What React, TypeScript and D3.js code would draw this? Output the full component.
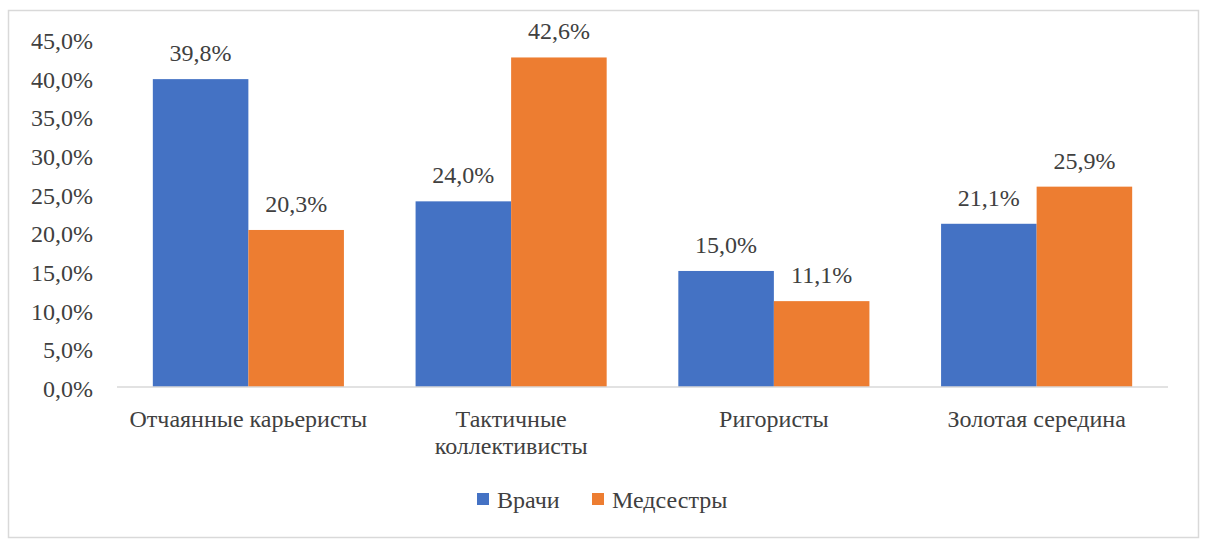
import React from "react";
import * as d3 from "d3";

const categories: string[][] = [
  ["Отчаянные карьеристы"],
  ["Тактичные", "коллективисты"],
  ["Ригористы"],
  ["Золотая середина"],
];
const seriesNames = ["Врачи", "Медсестры"];
const doctors = [39.8, 24.0, 15.0, 21.1];
const nurses = [20.3, 42.6, 11.1, 25.9];
const yTicks = [0, 5, 10, 15, 20, 25, 30, 35, 40, 45];

const colors = ["#4472C4", "#ED7D31"];
const textColor = "#404040";
const lineColor = "#D9D9D9";
const font =
  "'Times New Roman', Times, Tinos, 'Liberation Serif', 'Noto Serif', 'DejaVu Serif', FreeSerif, 'Nimbus Roman', serif";

const width = 1210;
const height = 547;
const plotLeft = 117;
const plotRight = 1168;
const plotBottom = 387;

const fmt = (v: number) => v.toFixed(1).replace(".", ",") + "%";

export default function App() {
  const keys = categories.map((c) => c.join(" "));
  const x = d3.scaleBand().domain(keys).range([plotLeft, plotRight]);
  const inner = d3
    .scaleBand()
    .domain(seriesNames)
    .range([0, x.bandwidth()])
    .paddingInner(0)
    .paddingOuter(0.375);
  const y = d3.scaleLinear().domain([0, 45]).range([plotBottom, 38.9]);
  const values = [doctors, nurses];
  const ts = { fontFamily: font, fontSize: "24px", fill: textColor };

  return (
    <svg
      width={width}
      height={height}
      style={{ position: "absolute", left: 0, top: 0, fontFamily: font }}
    >
      <rect x={0} y={0} width={width} height={height} fill="#fff" />
      <rect
        x={8.5}
        y={10.5}
        width={1190}
        height={527}
        fill="#fff"
        stroke={lineColor}
        strokeWidth={1.5}
      />

      {/* y axis labels */}
      {yTicks.map((t) => (
        <text key={t} x={93} y={y(t) + 10} textAnchor="end" style={ts}>
          {fmt(t)}
        </text>
      ))}

      {/* bars */}
      {seriesNames.map((s, si) =>
        keys.map((k, ci) => {
          const v = values[si][ci];
          const bx = (x(k) ?? 0) + (inner(s) ?? 0);
          return (
            <g key={s + k}>
              <rect
                x={bx}
                y={y(v)}
                width={inner.bandwidth()}
                height={y(0) - y(v)}
                fill={colors[si]}
              />
              <text
                x={bx + inner.bandwidth() / 2}
                y={y(v) - 18}
                textAnchor="middle"
                style={ts}
              >
                {fmt(v)}
              </text>
            </g>
          );
        })
      )}

      {/* x axis line */}
      <line
        x1={plotLeft}
        x2={plotRight}
        y1={plotBottom}
        y2={plotBottom}
        stroke={lineColor}
        strokeWidth={1.5}
      />

      {/* category labels */}
      {categories.map((lines, ci) => {
        const cx = (x(keys[ci]) ?? 0) + x.bandwidth() / 2;
        return (
          <text key={ci} x={cx} y={427} textAnchor="middle" style={ts}>
            {lines.map((l, li) => (
              <tspan key={li} x={cx} dy={li === 0 ? 0 : 27}>
                {l}
              </tspan>
            ))}
          </text>
        );
      })}

      {/* legend */}
      {seriesNames.map((s, si) => {
        const lx = [477, 592][si];
        return (
          <g key={s}>
            <rect x={lx} y={493} width={12} height={12} fill={colors[si]} />
            <text x={lx + 20} y={508} style={ts}>
              {s}
            </text>
          </g>
        );
      })}
    </svg>
  );
}
